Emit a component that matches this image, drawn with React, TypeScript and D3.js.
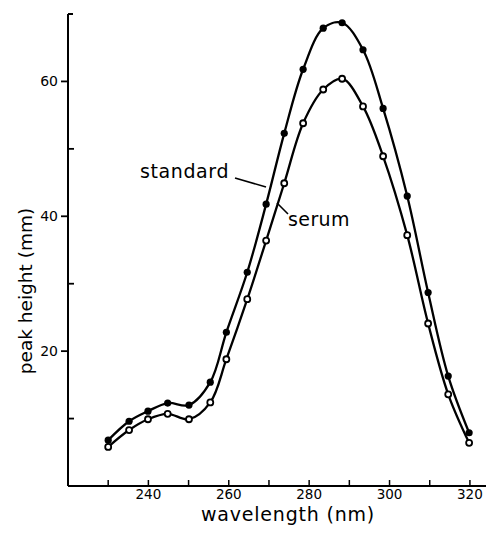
import React from "react";
import * as d3 from "d3";

const wavelengths = [230, 235.2, 239.9, 244.8, 250.1, 255.4, 259.4, 264.6, 269.3, 273.8, 278.5, 283.5, 288.2, 293.4, 298.4, 304.4, 309.6, 314.6, 319.8];
const standard = [6.8, 9.6, 11.1, 12.3, 12.0, 15.4, 22.8, 31.7, 41.8, 52.3, 61.8, 67.9, 68.7, 64.7, 56.0, 43.0, 28.7, 16.3, 7.9];
const serum = [5.8, 8.3, 9.9, 10.7, 9.9, 12.4, 18.8, 27.7, 36.4, 44.9, 53.8, 58.8, 60.4, 56.3, 48.9, 37.2, 24.1, 13.6, 6.4];

const xTickValues = [230, 240, 250, 260, 270, 280, 290, 300, 310, 320];
const xTickLabels = [240, 260, 280, 300, 320];
const yMajorTicks = [20, 40, 60];
const yMinorTicks = [10, 30, 50];

const W = 487;
const H = 534;
const FONT = "DejaVu Sans";

export default function App() {
  const x = d3.scaleLinear().domain([220, 324]).range([68, 486]);
  const y = d3.scaleLinear().domain([0, 70]).range([486, 14]);

  const line = d3
    .line<[number, number]>()
    .x((d) => x(d[0]))
    .y((d) => y(d[1]))
    .curve(d3.curveCatmullRom.alpha(0.5));

  const stdPts: [number, number][] = wavelengths.map((w, i) => [w, standard[i]]);
  const serPts: [number, number][] = wavelengths.map((w, i) => [w, serum[i]]);

  return (
    <svg
      width={W}
      height={H}
      style={{ position: "absolute", left: 0, top: 0, background: "#fff" }}
      fontFamily={FONT}
    >
      <rect x={0} y={0} width={W} height={H} fill="#fff" />
      {/* axes */}
      <line x1={x(220)} x2={x(220)} y1={y(70)} y2={y(0)} stroke="#000" strokeWidth={2} />
      <line x1={x(220)} x2={x(324)} y1={y(0)} y2={y(0)} stroke="#000" strokeWidth={2} />
      <line x1={x(220)} x2={x(220) + 5} y1={y(70)} y2={y(70)} stroke="#000" strokeWidth={2} />
      {yMajorTicks.map((t) => (
        <g key={"ym" + t}>
          <line x1={x(220) - 7} x2={x(220)} y1={y(t)} y2={y(t)} stroke="#000" strokeWidth={1.8} />
          <text x={x(220) - 10} y={y(t)} dy="0.35em" textAnchor="end" fontSize={14}>
            {t}
          </text>
        </g>
      ))}
      {yMinorTicks.map((t) => (
        <line key={"yn" + t} x1={x(220)} x2={x(220) + 6} y1={y(t)} y2={y(t)} stroke="#000" strokeWidth={1.8} />
      ))}
      {xTickValues.map((t) => (
        <line key={"xt" + t} x1={x(t)} x2={x(t)} y1={y(0)} y2={y(0) - 6} stroke="#000" strokeWidth={1.5} />
      ))}
      {xTickLabels.map((t) => (
        <text key={"xl" + t} x={x(t)} y={y(0) + 12.5} textAnchor="middle" fontSize={13.5}>
          {t}
        </text>
      ))}
      <text x={288} y={521} textAnchor="middle" fontSize={19} letterSpacing={0.8}>
        wavelength (nm)
      </text>
      <text
        transform={`translate(32,291) rotate(-90)`}
        textAnchor="middle"
        fontSize={18.5}
      >
        peak height (mm)
      </text>

      {/* curves */}
      <path d={line(stdPts) || ""} fill="none" stroke="#000" strokeWidth={2.3} />
      <path d={line(serPts) || ""} fill="none" stroke="#000" strokeWidth={2.3} />
      {stdPts.map((d, i) => (
        <circle key={"s" + i} cx={x(d[0])} cy={y(d[1])} r={3.6} fill="#000" />
      ))}
      {serPts.map((d, i) => (
        <circle key={"r" + i} cx={x(d[0])} cy={y(d[1])} r={3} fill="#fff" stroke="#000" strokeWidth={1.8} />
      ))}

      {/* labels */}
      <text x={140} y={178} fontSize={19} letterSpacing={0.6}>
        standard
      </text>
      <line x1={235} y1={178} x2={266} y2={187} stroke="#000" strokeWidth={1.6} />
      <text x={288} y={226} fontSize={19} letterSpacing={0.4}>
        serum
      </text>
      <line x1={277} y1={203} x2={288} y2={214} stroke="#000" strokeWidth={1.6} />
    </svg>
  );
}
